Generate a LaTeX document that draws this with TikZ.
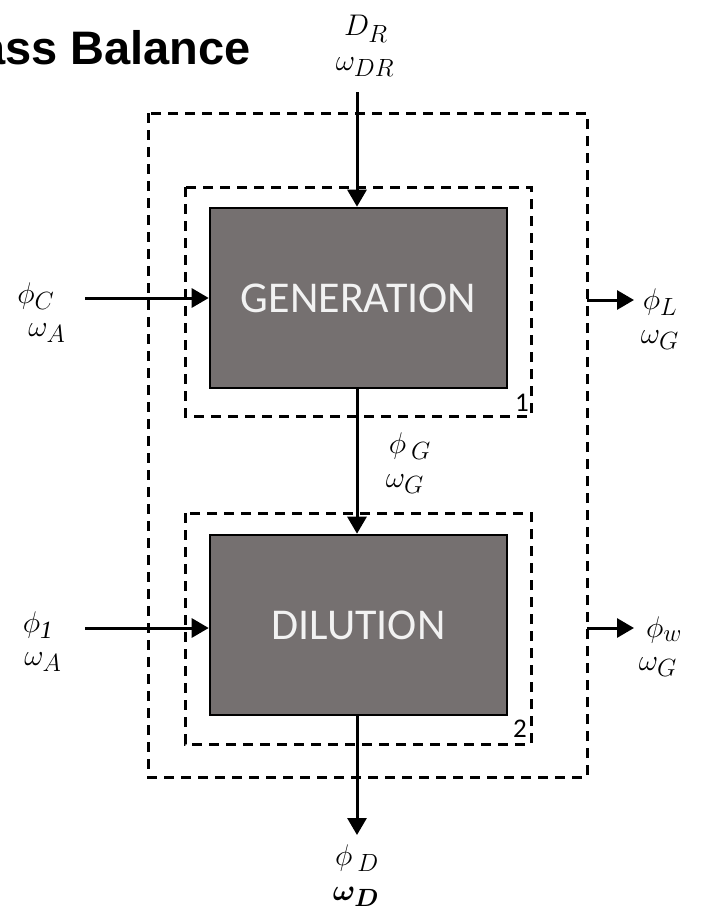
\documentclass[tikz,border=0pt]{standalone}
\usepackage{graphicx}
\usepackage{amsmath,bm}
\usepackage{fontspec}
\setmainfont{Liberation Serif}
\newfontfamily\titlefont{Liberation Sans}
\newfontfamily\boxfont{Carlito}
\usetikzlibrary{arrows.meta}
\definecolor{boxgray}{RGB}{117,112,112}
\definecolor{boxtext}{RGB}{242,242,242}
\newcommand{\lbm}[1]{\scalebox{1.2}{$#1$}}
\begin{document}
\begin{tikzpicture}[x=1pt,y=-1pt,
  dashbox/.style={draw,line width=3pt,dash pattern=on 10pt off 7pt},
  procbox/.style={draw,line width=2.6pt,fill=boxgray,text=boxtext,font=\boxfont\fontsize{44}{48}\selectfont},
  flow/.style={line width=3pt,-{Triangle[length=17pt,width=19pt]}},
  lbl/.style={font=\fontsize{24.88}{30}\selectfont,inner sep=0pt},
  num/.style={font=\boxfont\fontsize{27}{29}\selectfont,inner sep=0pt}]
\clip (0,0) rectangle (701,913);
\path[use as bounding box] (0,0) rectangle (701,913);
% title
\node[anchor=base east,inner sep=0pt,font=\titlefont\bfseries\fontsize{47}{50}\selectfont] (title) at (251,64) {Mass Balance};
% boxes
\draw[dashbox] (148,113) rectangle (587,777);
\draw[dashbox] (185,187) rectangle (531,416);
\draw[dashbox] (185,513) rectangle (531,744);
\node[procbox,minimum width=297pt,minimum height=180pt] (gen) at (358.5,298) {\raisebox{-2pt}{GENERATION}};
\node[procbox,minimum width=297pt,minimum height=180pt] (dil) at (358.5,625) {\raisebox{-2pt}{DILUTION}};
\node[num] (n1) at (522,403) {1};
\node[num] (n2) at (520,729) {2};
% coordinates
\coordinate (top) at (357,92);
\coordinate (bot) at (357,835);
\coordinate (inC) at (85,298);
\coordinate (in1) at (85,628);
\coordinate (outLs) at (587,300);
\coordinate (outL) at (634,300);
\coordinate (outWs) at (587,628);
\coordinate (outW) at (634,628);
% flows
\draw[flow] (top) -- (gen.north -| top);
\draw[flow] (gen.south -| top) -- (dil.north -| top);
\draw[flow] (dil.south -| bot) -- (bot);
\draw[flow] (inC) -- (inC -| gen.west);
\draw[flow] (in1) -- (in1 -| dil.west);
\draw[flow] (outLs) -- (outL);
\draw[flow] (outWs) -- (outW);
% labels
\node[lbl] (dr) at (366,29) {\lbm{D_R}};
\node[lbl] (wdr) at (365,67) {\lbm{\omega_{DR}}};
\node[lbl] (phic) at (36,296) {\lbm{\phi_C}};
\node[lbl] (wa1) at (47,333) {\lbm{\omega_A}};
\node[lbl] (phil) at (660,302) {\lbm{\phi_L}};
\node[lbl] (wg1) at (660,340) {\lbm{\omega_G}};
\node[lbl] (phig) at (410,446) {\lbm{\phi\,_G}};
\node[lbl] (wg2) at (405,484) {\lbm{\omega_G}};
\node[lbl] (phi1) at (38,625) {\lbm{\phi_{\mathit{1}}}};
\node[lbl] (wa2) at (43,662) {\lbm{\omega_A}};
\node[lbl] (phiw) at (664,630) {\lbm{\phi_w}};
\node[lbl] (wg3) at (658,667) {\lbm{\omega_G}};
\node[lbl,anchor=base] (phid) at (357,865) {\lbm{\phi\,_D}};
\node[lbl,anchor=base] (wd) at (356,900) {\lbm{\bm{\omega_D}}};
\end{tikzpicture}
\end{document}
